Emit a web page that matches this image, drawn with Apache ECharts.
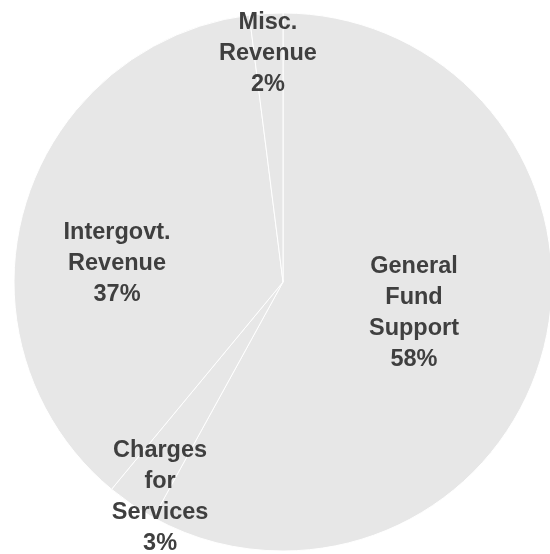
<!DOCTYPE html>
<html>
<head>
<meta charset="utf-8">
<style>
  html, body { margin: 0; padding: 0; background: #ffffff; }
  #chart { width: 550px; height: 554px; }
</style>
<script src="https://cdn.jsdelivr.net/npm/echarts@6/dist/echarts.min.js"></script>
</head>
<body>
<div id="chart"></div>
<script>
// Revenue sources, in percent of the total
const categories = ['General\nFund\nSupport', 'Charges\nfor\nServices', 'Intergovt.\nRevenue', 'Misc.\nRevenue'];
const shares = [58, 3, 37, 2];

// Pie geometry (pixels)
const CX = 283, CY = 282, R = 269;

// Where each label block sits, as offsets from the centre in units of the radius
const labelAnchors = [
  [0.487, 0.115],
  [-0.457, 0.799],
  [-0.617, -0.067],
  [-0.056, -0.848]
];

const chart = echarts.init(document.getElementById('chart'), null, { renderer: 'canvas' });

chart.setOption({
  animation: false,
  backgroundColor: '#ffffff',
  series: [{
    type: 'pie',
    center: [CX, CY],
    radius: [0, R],
    startAngle: 90,
    clockwise: true,
    percentPrecision: 0,
    silent: true,
    itemStyle: { color: '#e7e7e7', borderColor: '#ffffff', borderWidth: 1 },
    label: {
      show: true,
      position: 'inside',
      formatter: '{b}\n{d}%',
      fontFamily: "'Liberation Sans', Arial, sans-serif",
      fontWeight: 'bold',
      fontSize: 23.5,
      lineHeight: 31,
      color: '#3f3f3f',
      align: 'center',
      verticalAlign: 'middle'
    },
    labelLine: { show: false },
    labelLayout: function (p) {
      const a = labelAnchors[p.dataIndex];
      return {
        x: CX + a[0] * R,
        y: CY + a[1] * R,
        align: 'center',
        verticalAlign: 'middle'
      };
    },
    emphasis: { disabled: true },
    data: categories.map((name, i) => ({ name: name, value: shares[i] }))
  }]
});
</script>
</body>
</html>
